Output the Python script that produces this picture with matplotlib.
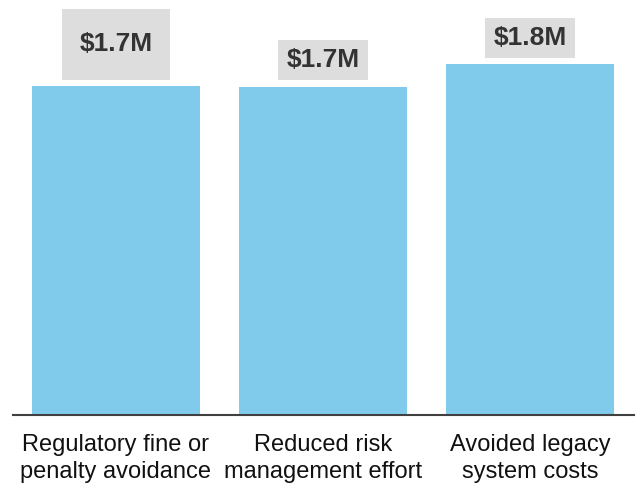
import matplotlib
matplotlib.use("Agg")
import matplotlib.pyplot as plt

categories = ["Regulatory fine or\npenalty avoidance",
              "Reduced risk\nmanagement effort",
              "Avoided legacy\nsystem costs"]
values = [1.725, 1.72, 1.84]  # $M
labels = [f"${v:.1f}M" for v in values]

plt.rcParams['font.family'] = ['Liberation Sans', 'DejaVu Sans']

fig = plt.figure(figsize=(6.39, 4.83), dpi=100)
ax = fig.add_axes([12.5 / 639, 68 / 483, 621 / 639, 415 / 483])

x = range(len(categories))
ax.bar(x, values, width=0.81, color="#80CBEB", zorder=2)

# value tags above each bar; the first one sits in a taller box
for i, (v, lab) in enumerate(zip(values, labels)):
    if i == 0:
        off, pad, asp = 30, 0.66, 1.36
    else:
        off, pad, asp = 19, 0.32, 0.95
    ax.annotate(lab, (i, v), xytext=(0, off), textcoords="offset points",
                ha="center", va="center", fontsize=19, fontweight="bold",
                color="#333333",
                bbox=dict(boxstyle=f"square,pad={pad}", fc="#DDDDDD",
                          ec="none", mutation_aspect=asp))

ax.set_xlim(-0.5, 2.5)
ax.set_ylim(0, 2.175)
ax.set_xticks(list(x))
ax.set_xticklabels(categories, fontsize=17, color="#111111", linespacing=1.25)
ax.tick_params(axis="x", length=0, pad=14)
ax.set_yticks([])
for side in ("top", "right", "left"):
    ax.spines[side].set_visible(False)
ax.spines["bottom"].set_color("#404040")
ax.spines["bottom"].set_linewidth(1.5)

fig.savefig("out.png", dpi=100)
